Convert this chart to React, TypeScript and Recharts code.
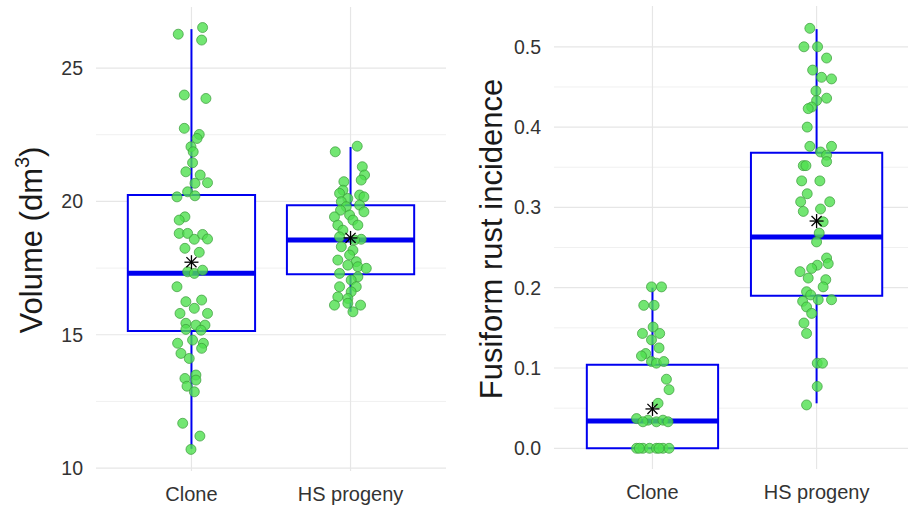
import {
  ComposedChart,
  XAxis,
  YAxis,
  Scatter,
  ReferenceArea,
  ReferenceLine,
  CartesianGrid,
  Label,
} from "recharts";

const categories = ["Clone", "HS progeny"];

const cloneVolume = [
  26.27, 26.52, 26.05, 23.99, 23.86, 22.74, 22.51, 22.36, 22.05, 21.86,
  21.45, 21.11, 20.99, 20.7, 20.68, 20.36, 20.17, 20.21, 19.42, 19.3,
  18.8, 18.8, 18.58, 18.76, 18.59, 18.24, 18.09, 17.36, 17.3, 17.42,
  16.8, 16.24, 16.3, 15.99, 15.8, 15.8, 15.43, 15.36, 15.36, 15.2,
  15.17, 14.8, 14.68, 14.68, 14.3, 14.49, 14.11, 13.36, 13.49, 13.3,
  13.07, 12.86, 11.68, 11.2, 10.7,
];
const cloneVolumeJitter = [
  -0.083, 0.07, 0.064, -0.045, 0.091, -0.045, 0.049, 0.035, -0.003, 0.011,
  0.007, -0.035, 0.055, 0.101, 0.022, -0.024, -0.091, 0.022, -0.041, -0.077,
  -0.077, -0.024, 0.018, 0.07, 0.101, -0.041, 0.049, -0.024, 0.018, 0.07,
  -0.091, -0.035, 0.064, 0.018, -0.072, 0.101, -0.035, 0.028, 0.085, -0.035,
  0.06, 0.007, -0.087, 0.075, -0.066, 0.064, -0.014, -0.041, 0.028, 0.028,
  -0.028, 0.018, -0.055, 0.053, -0.003,
];
const hsVolume = [
  21.86, 22.07, 21.3, 20.99, 20.8, 20.74, 20.42, 20.3, 20.24, 20.17,
  20.11, 19.99, 19.86, 19.8, 19.67, 19.61, 19.49, 19.42, 19.3, 19.11,
  19.11, 18.92, 18.58, 18.67, 18.55, 18.3, 18.17, 17.99, 17.8, 17.74,
  17.61, 17.55, 17.49, 17.3, 17.17, 17.05, 16.8, 16.8, 16.61, 16.42,
  16.36, 16.11, 16.18, 16.11, 15.86,
];
const hsVolumeJitter = [
  -0.096, 0.042, 0.074, 0.088, 0.067, -0.042, -0.048, -0.069, 0.057, 0.084,
  -0.017, -0.058, 0.057, -0.027, -0.063, 0.084, -0.006, -0.101, 0.015, -0.08,
  0.046, -0.048, 0.067, -0.069, 0.025, -0.058, 0.015, -0.006, -0.08, 0.036,
  -0.017, 0.046, 0.099, -0.069, 0.046, 0.004, -0.069, 0.036, 0.004, -0.08,
  -0.017, -0.101, -0.017, 0.063, 0.015,
];

// Fusiform rust incidence
const cloneRust = [
  0.201, 0.201, 0.178, 0.178, 0.151, 0.143, 0.143, 0.135, 0.125, 0.118,
  0.115, 0.108, 0.106, 0.108, 0.086, 0.073, 0.056, 0.037, 0.035, 0.033,
  0.035, 0.033, 0.033, 0, 0, 0, 0, 0, 0, 0, 0,
];
const cloneRustJitter = [
  -0.006, 0.055, -0.053, 0.01, 0.004, -0.061, 0.044, -0.006, 0.04, -0.041,
  -0.067, -0.006, 0.024, 0.069, 0.085, 0.101, 0.034, -0.097, -0.027, 0.024,
  0.064, 0.095, -0.058, -0.097, -0.058, -0.018, 0.024, 0.064, 0.101, -0.08, 0.04,
];
const hsRust = [
  0.523, 0.5, 0.5, 0.486, 0.471, 0.462, 0.46, 0.445, 0.436, 0.433,
  0.425, 0.423, 0.4, 0.376, 0.376, 0.369, 0.365, 0.357, 0.352, 0.352,
  0.333, 0.333, 0.317, 0.307, 0.307, 0.295, 0.298, 0.282, 0.268, 0.257,
  0.237, 0.23, 0.228, 0.224, 0.22, 0.212, 0.21, 0.201, 0.195, 0.191,
  0.185, 0.185, 0.183, 0.176, 0.168, 0.156, 0.143, 0.106, 0.106, 0.077,
  0.054,
];
const hsRustJitter = [
  -0.041, -0.077, 0.006, 0.061, -0.024, 0.03, 0.091, -0.004, 0.061, 0,
  -0.03, -0.051, -0.057, -0.041, 0.091, 0.024, 0.061, 0.061, -0.081, -0.065,
  -0.091, 0.02, -0.057, -0.097, 0.08, -0.081, 0.024, 0.04, 0.016, 0,
  0.061, 0.071, 0.004, -0.03, -0.101, -0.051, 0.056, 0.04, -0.061, -0.036,
  0.01, 0.091, -0.085, -0.061, -0.03, -0.077, -0.061, 0.004, 0.036, 0.004,
  -0.061,
];

// box statistics per category [Clone, HS progeny]
const volumeLower = [10.72, 15.86];
const volumeQ1 = [15.14, 17.27];
const volumeMedian = [17.31, 18.55];
const volumeQ3 = [20.24, 19.86];
const volumeUpper = [26.46, 22.04];
const volumeMean = [17.72, 18.63];

const rustLower = [0, 0.056];
const rustQ1 = [0, 0.19];
const rustMedian = [0.034, 0.263];
const rustQ3 = [0.104, 0.368];
const rustUpper = [0.2, 0.522];
const rustMean = [0.049, 0.283];

const volumeTicks = [10, 15, 20, 25];
const volumeMinor = [12.5, 17.5, 22.5];
const rustTicks = [0, 0.1, 0.2, 0.3, 0.4, 0.5];
const rustMinor = [0.05, 0.15, 0.25, 0.35, 0.45];

const FONT = '"Liberation Sans", Arial, sans-serif';
const BLUE = "#0000f0";

const toPoints = (values: number[], jitter: number[], pos: number) =>
  values.map((v, i) => ({ x: pos + jitter[i], y: v }));

const Dot = (props: any) => (
  <circle
    cx={props.cx}
    cy={props.cy}
    r={5}
    fill="#4fe04f"
    fillOpacity={0.8}
    stroke="#3a9a3a"
    strokeOpacity={0.7}
    strokeWidth={1}
  />
);

const Star = (props: any) => {
  const { cx, cy } = props;
  const r = 7;
  const d = r * 0.72;
  return (
    <g stroke="#000" strokeWidth={1.3}>
      <line x1={cx - r} y1={cy} x2={cx + r} y2={cy} />
      <line x1={cx} y1={cy - r} x2={cx} y2={cy + r} />
      <line x1={cx - d} y1={cy - d} x2={cx + d} y2={cy + d} />
      <line x1={cx - d} y1={cy + d} x2={cx + d} y2={cy - d} />
    </g>
  );
};

type PanelProps = {
  width: number;
  top: number;
  right: number;
  axisWidth: number;
  xHeight: number;
  xDomain: [number, number];
  yDomain: [number, number];
  ticks: number[];
  minor: number[];
  fmt: (v: number) => string;
  lower: number[];
  q1: number[];
  median: number[];
  q3: number[];
  upper: number[];
  mean: number[];
  groups: { x: number; y: number }[][];
  label: any;
};

const Panel = (p: PanelProps) => (
  <ComposedChart
    width={p.width}
    height={506}
    margin={{ top: p.top, right: p.right, bottom: 0, left: 0 }}
  >
    <CartesianGrid
      horizontalValues={p.minor}
      vertical={false}
      stroke="#f0f0f0"
      strokeWidth={1}
    />
    <CartesianGrid
      horizontalValues={p.ticks}
      verticalValues={[1, 2]}
      stroke="#e6e6e6"
      strokeWidth={1.2}
    />
    <XAxis
      type="number"
      dataKey="x"
      domain={p.xDomain}
      allowDataOverflow
      ticks={[1, 2]}
      tickFormatter={(v: number) => categories[v - 1]}
      axisLine={false}
      tickLine={false}
      tickSize={0}
      tickMargin={16}
      height={p.xHeight}
      tick={{ fontSize: 20, fill: "#333", fontFamily: FONT }}
    />
    <YAxis
      type="number"
      dataKey="y"
      domain={p.yDomain}
      allowDataOverflow
      ticks={p.ticks}
      tickFormatter={p.fmt}
      axisLine={false}
      tickLine={false}
      tickSize={0}
      tickMargin={13}
      width={p.axisWidth}
      tick={{ fontSize: 19.5, fill: "#333", fontFamily: FONT }}
    >
      <Label content={() => p.label} />
    </YAxis>
    {categories.map((c, i) => (
      <ReferenceLine
        key={"wl" + c}
        segment={[
          { x: i + 1, y: p.lower[i] },
          { x: i + 1, y: p.q1[i] },
        ]}
        stroke={BLUE}
        strokeWidth={2}
      />
    ))}
    {categories.map((c, i) => (
      <ReferenceLine
        key={"wu" + c}
        segment={[
          { x: i + 1, y: p.q3[i] },
          { x: i + 1, y: p.upper[i] },
        ]}
        stroke={BLUE}
        strokeWidth={2}
      />
    ))}
    {categories.map((c, i) => (
      <ReferenceArea
        key={"b" + c}
        x1={i + 0.6}
        x2={i + 1.4}
        y1={p.q1[i]}
        y2={p.q3[i]}
        fill="#fff"
        fillOpacity={1}
        stroke={BLUE}
        strokeWidth={2}
        strokeOpacity={1}
      />
    ))}
    {categories.map((c, i) => (
      <ReferenceLine
        key={"md" + c}
        segment={[
          { x: i + 0.6, y: p.median[i] },
          { x: i + 1.4, y: p.median[i] },
        ]}
        stroke={BLUE}
        strokeWidth={5}
      />
    ))}
    {p.groups.map((g, i) => (
      <Scatter key={"s" + i} data={g} shape={Dot} isAnimationActive={false} />
    ))}
    <Scatter
      data={p.mean.map((m, i) => ({ x: i + 1, y: m }))}
      shape={Star}
      isAnimationActive={false}
    />
  </ComposedChart>
);

const volumeLabel = (
  <text
    transform="translate(42, 240) rotate(-90)"
    textAnchor="middle"
    fontSize={31}
    fontFamily={FONT}
    fill="#1a1a1a"
  >
    Volume (dm
    <tspan dy={-13} fontSize={20}>
      3
    </tspan>
    <tspan dy={13}>)</tspan>
  </text>
);

const rustLabel = (
  <text
    transform="translate(42, 239) rotate(-90)"
    textAnchor="middle"
    fontSize={31}
    fontFamily={FONT}
    fill="#1a1a1a"
  >
    Fusiform rust incidence
  </text>
);

export default function App() {
  return (
    <div
      style={{
        position: "fixed",
        left: 0,
        top: 0,
        width: 908,
        height: 506,
        background: "#fff",
        display: "flex",
      }}
    >
      <Panel
        width={460}
        top={7}
        right={14}
        axisWidth={96}
        xHeight={35}
        xDomain={[0.4, 2.6]}
        yDomain={[9.89, 27.29]}
        ticks={volumeTicks}
        minor={volumeMinor}
        fmt={(v) => String(v)}
        lower={volumeLower}
        q1={volumeQ1}
        median={volumeMedian}
        q3={volumeQ3}
        upper={volumeUpper}
        mean={volumeMean}
        groups={[
          toPoints(cloneVolume, cloneVolumeJitter, 1),
          toPoints(hsVolume, hsVolumeJitter, 2),
        ]}
        label={volumeLabel}
      />
      <Panel
        width={448}
        top={6}
        right={0}
        axisWidth={94}
        xHeight={37}
        xDomain={[0.4, 2.557]}
        yDomain={[-0.0258, 0.5508]}
        ticks={rustTicks}
        minor={rustMinor}
        fmt={(v) => v.toFixed(1)}
        lower={rustLower}
        q1={rustQ1}
        median={rustMedian}
        q3={rustQ3}
        upper={rustUpper}
        mean={rustMean}
        groups={[
          toPoints(cloneRust, cloneRustJitter, 1),
          toPoints(hsRust, hsRustJitter, 2),
        ]}
        label={rustLabel}
      />
    </div>
  );
}
